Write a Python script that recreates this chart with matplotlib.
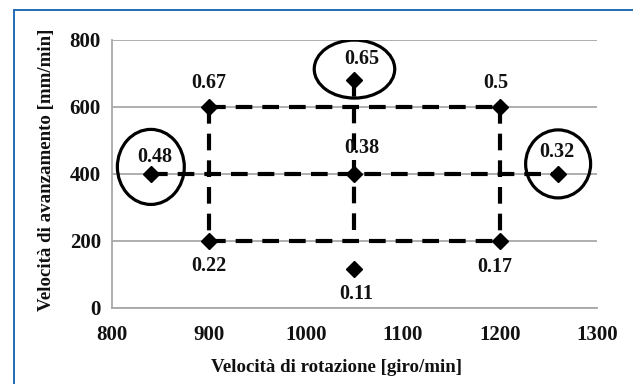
import matplotlib
matplotlib.use('Agg')
import matplotlib.pyplot as plt
from matplotlib.patches import Ellipse, Rectangle

plt.rcParams['font.family'] = ['Liberation Serif', 'DejaVu Serif']
plt.rcParams['font.weight'] = 'bold'

# velocità di rotazione [giro/min], velocità di avanzamento [mm/min], valore misurato
rotazione = [900, 1050, 1200, 840, 1050, 1260, 900, 1050, 1200]
avanzamento = [600, 680, 600, 400, 400, 400, 200, 115, 200]
valori = ['0.67', '0.65', '0.5', '0.48', '0.38', '0.32', '0.22', '0.11', '0.17']

x_ticks = [800, 900, 1000, 1100, 1200, 1300]
y_ticks = [0, 200, 400, 600, 800]

# spostamento delle etichette (punti tipografici)
label_offsets = [(0, 17), (5, 15), (-3, 17), (3, 12), (5, 19), (-1, 16),
                 (0, -18), (1, -18), (-4, -19)]

# segmenti tratteggiati fra i punti (indici)
segmenti = [(0, 2), (3, 5), (6, 8), (0, 6), (2, 8)]

# punti evidenziati: indice, offset centro y, larghezza, altezza (dati)
cerchi = [(1, 33, 83, 173), (3, 21, 69, 224), (5, 30, 67, 203)]

fig = plt.figure(figsize=(6.33, 3.84), dpi=100)
ax = fig.add_axes([0.177, 0.198, 0.766, 0.698])

for i, j in segmenti:
    ax.plot([rotazione[i], rotazione[j]], [avanzamento[i], avanzamento[j]],
            color='black', lw=3, dashes=(4, 2.4), zorder=3)
# linea verticale centrale fino al punto superiore
ax.plot([rotazione[1], rotazione[1]], [avanzamento[1], avanzamento[6]],
        color='black', lw=3, dashes=(4, 2.4), zorder=3)

ax.plot(rotazione, avanzamento, 'D', color='black', markersize=8.5,
        linestyle='none', zorder=4)

for xv, yv, txt, off in zip(rotazione, avanzamento, valori, label_offsets):
    ax.annotate(txt, (xv, yv), xytext=off, textcoords='offset points',
                ha='center', va='center', fontsize=14.5, fontweight='bold',
                color='#111111', zorder=5)

for idx, dy, w, h in cerchi:
    ax.add_patch(Ellipse((rotazione[idx], avanzamento[idx] + dy), w, h,
                         fill=False, edgecolor='black', lw=2.3, zorder=5))

ax.set_xlim(800, 1300)
ax.set_ylim(0, 800)
ax.set_xticks(x_ticks)
ax.set_yticks(y_ticks)
ax.tick_params(length=0, labelsize=15, pad=8, colors='#111111')
ax.tick_params(axis='x', pad=12)
for lab in ax.get_xticklabels() + ax.get_yticklabels():
    lab.set_fontweight('bold')

ax.grid(axis='y', color='#a8a8a8', lw=1.3)
ax.set_axisbelow(True)
for s in ['top', 'right']:
    ax.spines[s].set_visible(False)
for s in ['left', 'bottom']:
    ax.spines[s].set_color('#a8a8a8')
    ax.spines[s].set_linewidth(1.3)

ax.set_xlabel('Velocità di rotazione [giro/min]', fontsize=13.6, fontweight='bold',
              color='#111111')
ax.xaxis.set_label_coords(0.462, -0.19)
ax.set_ylabel('Velocità di avanzamento [mm/min]', fontsize=13.6, fontweight='bold',
              color='#111111')
ax.yaxis.set_label_coords(-0.118, 0.515)

# cornice blu attorno alla figura
fig.patches.append(Rectangle((14 / 633, -0.2), 1.2, 1.2 - 10 / 384,
                             transform=fig.transFigure, fill=False,
                             edgecolor='#1f6cb6', lw=1.4))

fig.savefig('out.png', dpi=100)
